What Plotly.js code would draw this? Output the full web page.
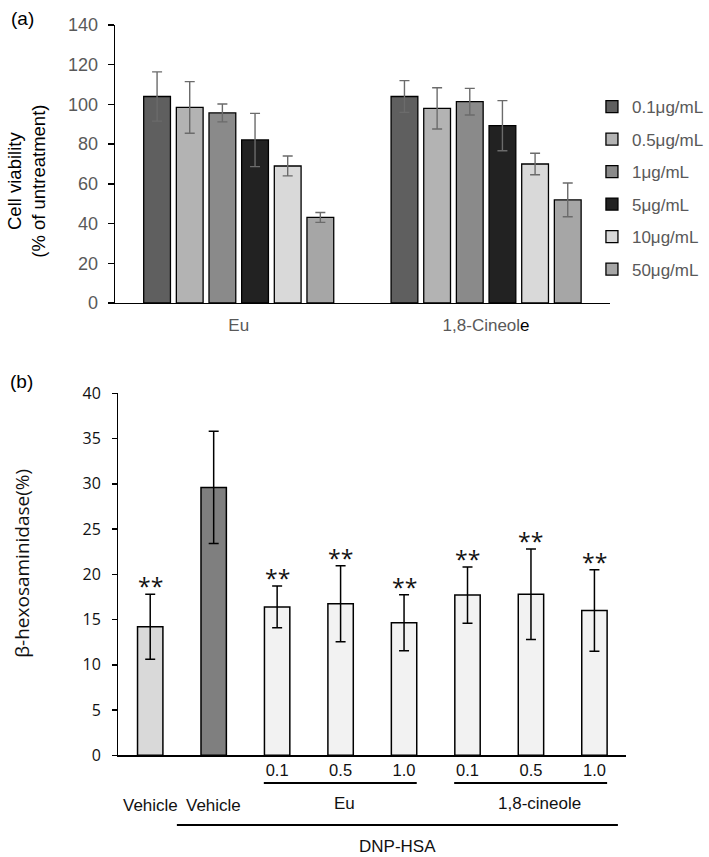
<!DOCTYPE html>
<html>
<head>
<meta charset="utf-8">
<script src="https://cdn.plot.ly/plotly-3.0.1.min.js"></script>
<style>html,body{margin:0;padding:0;background:#fff;}#chart{width:709px;height:857px;}</style>
</head>
<body>
<div id="chart"></div>
<script>
// ---------- Panel (a) data ----------
const groupsA = ["Eu", "1,8-Cineole"];
const groupTickTextA = ["Eu", "1,8-Cineol<span style='color:#000'>e</span>"];
const dosesA = ["0.1μg/mL", "0.5μg/mL", "1μg/mL", "5μg/mL", "10μg/mL", "50μg/mL"];
const colorsA = ["#5f5f5f", "#b3b3b3", "#8a8a8a", "#222222", "#d9d9d9", "#a6a6a6"];
const dose01 = [104.0, 104.0];
const dose05 = [98.5, 98.0];
const dose1 = [95.7, 101.4];
const dose5 = [82.1, 89.3];
const dose10 = [69.0, 70.0];
const dose50 = [43.1, 51.9];
const err01 = [12.4, 8.0];
const err05 = [13.0, 10.4];
const err1 = [4.5, 6.7];
const err5 = [13.4, 12.6];
const err10 = [5.0, 5.4];
const err50 = [2.5, 8.5];
const valuesA = [dose01, dose05, dose1, dose5, dose10, dose50];
const errorsA = [err01, err05, err1, err5, err10, err50];

// ---------- Panel (b) data ----------
const catsB = [0, 1, 2, 3, 4, 5, 6, 7];
const doseTicksB = ["", "", "0.1", "0.5", "1.0", "0.1", "0.5", "1.0"];
const valuesB = [14.2, 29.6, 16.4, 16.75, 14.65, 17.7, 17.8, 16.0];
const errorsB = [3.6, 6.2, 2.3, 4.2, 3.1, 3.1, 5.0, 4.5];
const colorsB = ["#d9d9d9", "#7f7f7f", "#f2f2f2", "#f2f2f2", "#f2f2f2", "#f2f2f2", "#f2f2f2", "#f2f2f2"];
const sigB = ["**", "", "**", "**", "**", "**", "**", "**"];
const vehicleLabels = ["Vehicle", "Vehicle"];
const treatGroups = [
  {label: "Eu", first: 2, last: 4},
  {label: "1,8-cineole", first: 5, last: 7}
];
const stimLabel = "DNP-HSA";

// ---------- geometry helpers ----------
const W = 709, H = 857;
const xp = px => px / W;
const yp = py => 1 - py / H;
const barWidthB = 0.4;

const FA = "Liberation Sans, Arial, sans-serif";
const FB = "Open Sans, Noto Sans, sans-serif";

const traces = [];
dosesA.forEach((name, i) => {
  traces.push({
    type: "bar", x: groupsA, y: valuesA[i], name: name, legendgroup: "g" + i,
    xaxis: "x", yaxis: "y",
    marker: {color: colorsA[i], line: {color: "#000", width: 1.3}},
    error_y: {type: "data", array: errorsA[i], visible: true, color: "#6b6b6b", thickness: 1.4, width: 5},
    hoverinfo: "skip"
  });
});
traces.push({
  type: "bar", x: catsB, y: valuesB, xaxis: "x2", yaxis: "y2", showlegend: false,
  width: catsB.map(() => barWidthB),
  marker: {color: colorsB, line: {color: "#000", width: 1.5}},
  error_y: {type: "data", array: errorsB, visible: true, color: "#000", thickness: 1.5, width: 5},
  hoverinfo: "skip"
});

const annotations = [];
const shapes = [];
annotations.push({xref: "paper", yref: "paper", x: xp(9), y: yp(18), xanchor: "left", yanchor: "middle",
  text: "(a)", showarrow: false, font: {family: FA, size: 19, color: "#000"}});
annotations.push({xref: "paper", yref: "paper", x: xp(8), y: yp(381), xanchor: "left", yanchor: "middle",
  text: "(b)", showarrow: false, font: {family: FA, size: 19, color: "#000"}});
annotations.push({xref: "paper", yref: "paper", x: xp(27), y: yp(181), xanchor: "center", yanchor: "middle",
  text: "Cell viability<br>(% of untreatment)", textangle: -90, showarrow: false,
  font: {family: FA, size: 18.5, color: "#000"}});
annotations.push({xref: "paper", yref: "paper", x: xp(22), y: yp(563), xanchor: "center", yanchor: "middle",
  text: "β-hexosaminidase(%)", textangle: -90, showarrow: false,
  font: {family: FB, size: 19, color: "#111"}});

// significance stars
sigB.forEach((s, i) => {
  if (!s) return;
  annotations.push({xref: "x2", yref: "y2", x: catsB[i], y: valuesB[i] + errorsB[i],
    xanchor: "center", yanchor: "bottom", yshift: -10, text: s, showarrow: false,
    font: {family: FB, size: 23, color: "#111"}});
});
// vehicle labels
vehicleLabels.forEach((t, i) => {
  annotations.push({xref: "x2", yref: "paper", x: catsB[i], y: yp(805), xanchor: "center", yanchor: "middle",
    text: t, showarrow: false, font: {family: FA, size: 17, color: "#111"}});
});
// treatment group labels and underlines
treatGroups.forEach((g, k) => {
  const c = (g.first + g.last) / 2;
  annotations.push({xref: "x2", yref: "paper", x: c, y: yp(803), xanchor: "center", yanchor: "middle",
    xshift: k === 0 ? 4 : 9,
    text: g.label, showarrow: false, font: {family: FA, size: 17, color: "#111"}});
  shapes.push({type: "line", xref: "x2", yref: "paper",
    x0: g.first - barWidthB / 2 - 0.01, x1: g.last + barWidthB / 2,
    y0: yp(783), y1: yp(783), line: {color: "#000", width: 2}});
});
// stimulus line and label
shapes.push({type: "line", xref: "x2", yref: "paper", x0: 0.42, x1: 7.37,
  y0: yp(825), y1: yp(825), line: {color: "#000", width: 2}});
annotations.push({xref: "x2", yref: "paper", x: 3.9, y: yp(846), xanchor: "center", yanchor: "middle",
  text: stimLabel, showarrow: false, font: {family: FA, size: 17, color: "#111"}});

const layout = {
  width: W, height: H,
  margin: {l: 0, r: 0, t: 0, b: 0},
  paper_bgcolor: "#fff", plot_bgcolor: "rgba(0,0,0,0)",
  barmode: "group", bargap: 0.208, bargroupgap: 0.18,
  showlegend: true,
  legend: {x: xp(597), y: yp(89), xanchor: "left", yanchor: "top",
    font: {family: FA, size: 17, color: "#595959"}, tracegroupgap: 7.4,
    bgcolor: "rgba(0,0,0,0)", itemclick: false},
  xaxis: {domain: [xp(116), xp(615)], anchor: "y", type: "category", range: [-0.5, 1.5],
    tickvals: groupsA, ticktext: groupTickTextA,
    showline: true, linecolor: "#000", linewidth: 1.3, ticks: "", showgrid: false, zeroline: false,
    ticklabelstandoff: 6,
    tickfont: {family: FA, size: 17, color: "#595959"}, fixedrange: true},
  yaxis: {domain: [yp(303), yp(25)], anchor: "x", range: [0, 140], dtick: 20, tick0: 0,
    showline: true, linecolor: "#000", linewidth: 1.3, ticks: "outside", ticklen: 6, tickcolor: "#000",
    tickwidth: 1.3, showgrid: false, zeroline: false, ticklabelstandoff: 6,
    tickfont: {family: FA, size: 18, color: "#595959"}, fixedrange: true},
  xaxis2: {domain: [xp(119.5), xp(631.5)], anchor: "y2", range: [-0.5, 7.5],
    tickvals: catsB, ticktext: doseTicksB,
    showline: true, linecolor: "#000", linewidth: 1.5, ticks: "", showgrid: false, zeroline: false,
    ticklabelstandoff: -1,
    tickfont: {family: FA, size: 16.5, color: "#111"}, fixedrange: true},
  yaxis2: {domain: [yp(755.3), yp(393.3)], anchor: "x2", range: [0, 40], dtick: 5, tick0: 0,
    showline: true, linecolor: "#000", linewidth: 1.5, ticks: "outside", ticklen: 5, tickcolor: "#000",
    tickwidth: 1.5, showgrid: false, zeroline: false, ticklabelstandoff: 8,
    tickfont: {family: FB, size: 16, color: "#111"}, fixedrange: true},
  annotations: annotations,
  shapes: shapes
};

Plotly.newPlot("chart", traces, layout, {displayModeBar: false, staticPlot: true});
</script>
</body>
</html>
